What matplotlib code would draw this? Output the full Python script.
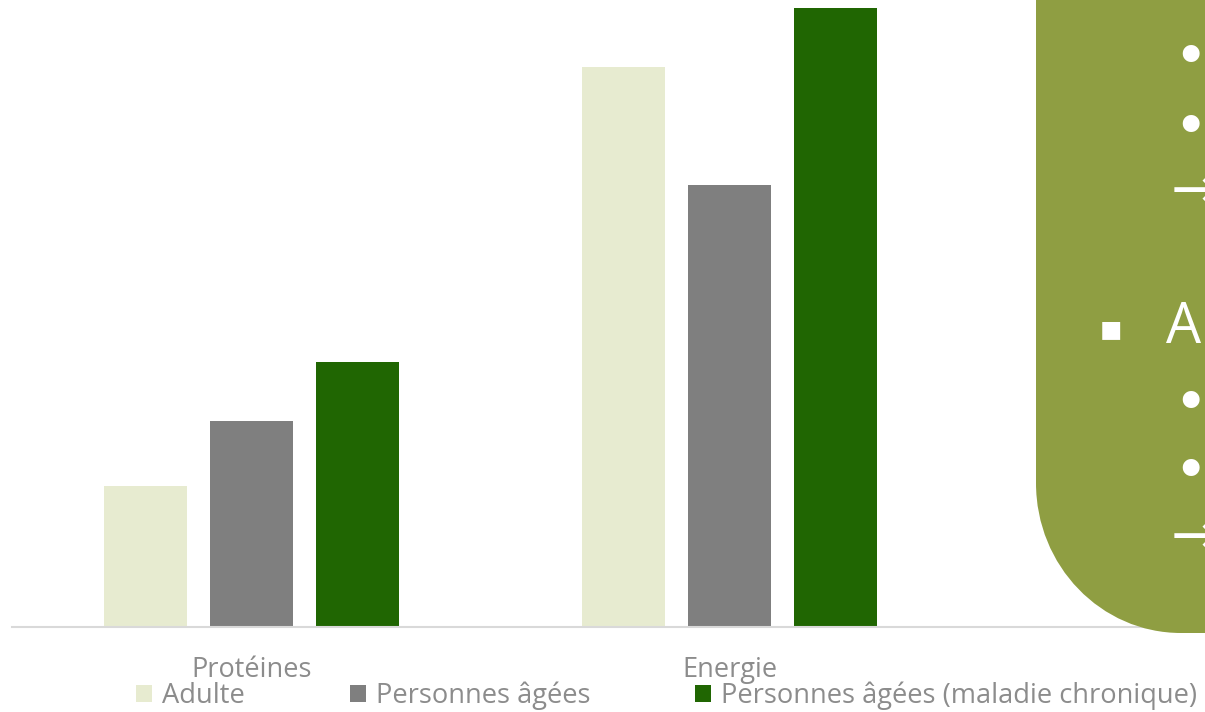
import matplotlib
matplotlib.use("Agg")
import matplotlib.pyplot as plt
from matplotlib import font_manager
from matplotlib.patches import PathPatch
from matplotlib.path import Path

names = {f.name for f in font_manager.fontManager.ttflist}
fam = 'Liberation Sans Narrow' if 'Liberation Sans Narrow' in names else 'Open Sans'
plt.rcParams['font.family'] = [fam, 'DejaVu Sans']

categories = ['Protéines', 'Energie']
series_names = ['Adulte', 'Personnes âgées', 'Personnes âgées (maladie chronique)']
adulte = [141, 560]
agees = [206, 442]
chronique = [265, 619]
colors = ['#E7EBD0', '#7F7F7F', '#206602']

W, H = 1205, 712
fig = plt.figure(figsize=(W / 100, H / 100), dpi=100)
base = 627
x0_px, c0_px, step_px = 12, 251.5, 478.5
ax = fig.add_axes([x0_px / W, (H - base) / H, (W - x0_px) / W, base / H])
ax.set_xlim((x0_px - c0_px) / step_px, (W - c0_px) / step_px)
ax.set_ylim(0, base)

bw = 83 / step_px
off = 106 / step_px
xs = range(len(categories))
for i, (vals, c, nm) in enumerate(zip([adulte, agees, chronique], colors, series_names)):
    ax.bar([x + (i - 1) * off for x in xs], vals, width=bw, color=c, label=nm, zorder=2)

for s in ['top', 'right', 'left']:
    ax.spines[s].set_visible(False)
ax.spines['bottom'].set_color('#D9D9D9')
ax.spines['bottom'].set_linewidth(1.5)
ax.set_yticks([])
ax.set_xticks(list(xs))
ax.set_xticklabels(categories, fontsize=19.5, color='#8C8C8C')
ax.tick_params(axis='x', length=0, pad=21)

handles, labels = ax.get_legend_handles_labels()
fs = 19.6
fs_px = fs * 100 / 72
leg = fig.legend(handles, labels, loc='center left',
                 bbox_to_anchor=(136 / W, 1 - 696 / H), ncol=3, frameon=False,
                 fontsize=fs, handlelength=16 / fs_px, handleheight=16 / fs_px,
                 handletextpad=10 / fs_px, columnspacing=105 / fs_px,
                 borderpad=0, borderaxespad=0)
for t in leg.get_texts():
    t.set_color('#8C8C8C')

# green overlay panel on the right
def fx(px):
    return px / W
def fy(py):
    return 1 - py / H
left, bottom, rx, ry = 1036, 633, 145, 150
k = 0.5523
verts = [(fx(W + 10), fy(-10)), (fx(left), fy(-10)), (fx(left), fy(bottom - ry)),
         (fx(left), fy(bottom - ry + k * ry)), (fx(left + rx - k * rx), fy(bottom)),
         (fx(left + rx), fy(bottom)),
         (fx(W + 10), fy(bottom)), (fx(W + 10), fy(-10))]
codes = [Path.MOVETO, Path.LINETO, Path.LINETO, Path.CURVE4, Path.CURVE4, Path.CURVE4,
         Path.LINETO, Path.CLOSEPOLY]
panel = PathPatch(Path(verts, codes), facecolor='#8F9E42', edgecolor='none',
                  transform=fig.transFigure, zorder=5)
fig.patches.append(panel)

tk = dict(color='white', transform=fig.transFigure, zorder=6, va='center',
          family=['DejaVu Sans'])
for yb in (52, 121, 397, 466):
    fig.text(fx(1173), fy(yb + 7), '•', fontsize=42, **tk)
for ya in (190, 535):
    fig.text(fx(1171), fy(ya + 2), '→', fontsize=42, **tk)
fig.text(fx(1099), fy(329), '▪', fontsize=26, **tk)
fig.text(fx(1166), fy(329), 'A', fontsize=40, color='white', transform=fig.transFigure,
         zorder=6, va='center')

fig.savefig('out.png', dpi=100)
